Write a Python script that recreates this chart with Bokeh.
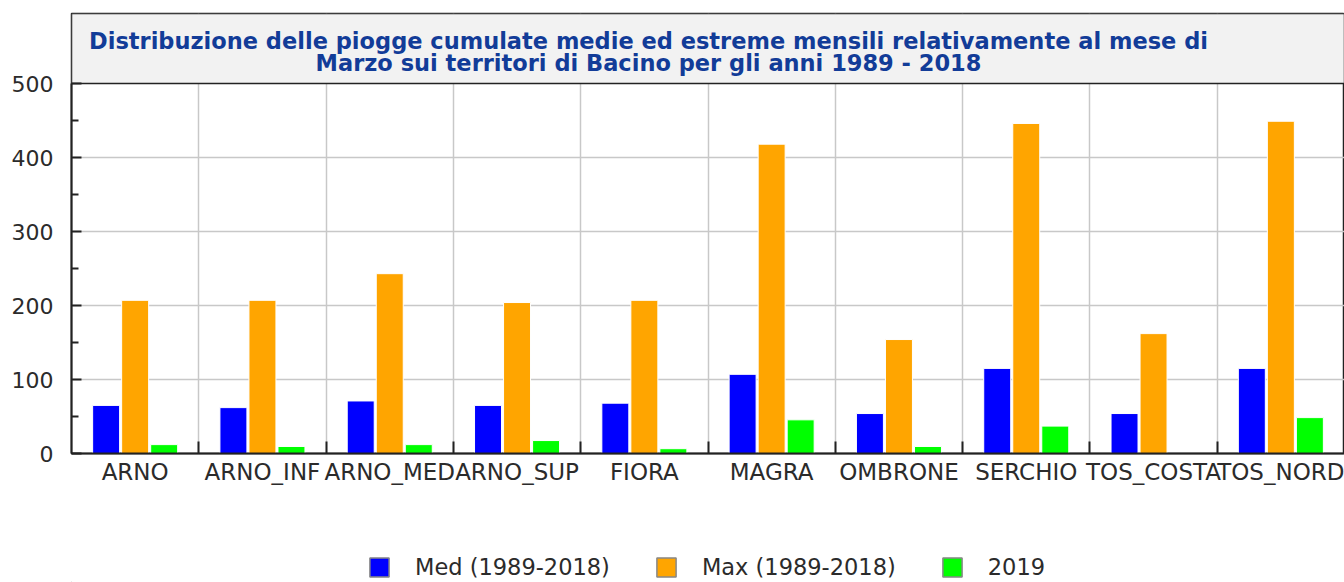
from bokeh.plotting import figure
from bokeh.models import (Range1d, FixedTicker, Legend, LegendItem, ColumnDataSource)
from bokeh.layouts import column
from bokeh.transform import dodge
from bokeh.embed import file_html
from bokeh.resources import INLINE
from bokeh.core.properties import value

# ---------------- data ----------------
categories = ["ARNO", "ARNO_INF", "ARNO_MED", "ARNO_SUP", "FIORA",
              "MAGRA", "OMBRONE", "SERCHIO", "TOS_COSTA", "TOS_NORD"]
med_1989_2018 = [65, 62, 71, 65, 68, 107, 54, 115, 54, 115]
max_1989_2018 = [207, 207, 243, 204, 207, 418, 154, 446, 162, 449]
val_2019 = [12, 9.5, 12, 17.5, 6.5, 45.5, 9.5, 37, 0, 48.5]
series_labels = ["Med (1989-2018)", "Max (1989-2018)", "2019"]
series_colors = ["#0000ff", "#ffa500", "#00ff00"]
y_ticks = [0, 100, 200, 300, 400, 500]
y_minor_ticks = [50, 150, 250, 350, 450]
title_lines = ["Distribuzione delle piogge cumulate medie ed estreme mensili relativamente al mese di",
               "Marzo sui territori di Bacino per gli anni 1989 - 2018"]

FONT = "DejaVu Sans"
TXT = "#2b2b2b"
W = 1344

n = len(categories)
centers = [i + 0.5 for i in range(n)]
bounds = [i for i in range(1, n)]
y_max = y_ticks[-1]

# pixel layout of the chart
FRAME_L, FRAME_T, DATA_T, DATA_B = 71, 13, 83, 453
px_per_unit = (DATA_B - DATA_T) / y_max
y_top = y_max + (DATA_T - FRAME_T) / px_per_unit   # room for the title box

src = ColumnDataSource(dict(x=centers, med=med_1989_2018, mx=max_1989_2018, y19=val_2019))

p = figure(width=W, height=490, output_backend="svg", toolbar_location=None,
           x_range=Range1d(0, n), y_range=Range1d(0, y_top),
           min_border_left=FRAME_L, min_border_right=0, min_border_top=FRAME_T,
           min_border_bottom=490 - DATA_B)
p.background_fill_color = "white"
p.border_fill_color = "white"
p.outline_line_color = "#222222"
p.outline_line_width = 1.5

# title box (inside the frame, above the data area)
p.quad(left=[0], right=[n], bottom=[y_max], top=[y_top],
       fill_color="#f2f2f2", line_color="#222222", line_width=1.5)
tx = n * (648 - FRAME_L) / (W - FRAME_L)
ty1 = y_max + (DATA_T - 40) / px_per_unit
ty2 = y_max + (DATA_T - 62) / px_per_unit
p.text(x=[tx, tx], y=[ty1, ty2], text=title_lines,
       text_font=value(FONT), text_font_style="bold", text_font_size="22.5px",
       text_color="#123c98", text_align="center", text_baseline="middle")

bw = 0.212
off = 0.228
p.vbar(x=dodge("x", -off, range=p.x_range), top="med", width=bw, source=src,
       fill_color=series_colors[0], line_color="white", line_width=1)
p.vbar(x=dodge("x", 0, range=p.x_range), top="mx", width=bw, source=src,
       fill_color=series_colors[1], line_color="white", line_width=1)
p.vbar(x=dodge("x", off, range=p.x_range), top="y19", width=bw, source=src,
       fill_color=series_colors[2], line_color="white", line_width=1)

# grid
p.xgrid.ticker = FixedTicker(ticks=bounds)
p.xgrid.bounds = (0, y_max)
p.ygrid.ticker = FixedTicker(ticks=y_ticks[1:-1])
p.grid.grid_line_color = "#c8c8c8"
p.grid.grid_line_width = 1.5

# x axis
xa = p.xaxis[0]
xa.ticker = FixedTicker(ticks=centers, minor_ticks=bounds)
xa.major_label_overrides = {c: lab for c, lab in zip(centers, categories)}
xa.major_tick_in = 0
xa.major_tick_out = 0
xa.minor_tick_in = 12
xa.minor_tick_out = 0
xa.minor_tick_line_color = "#222222"
xa.minor_tick_line_width = 2
xa.axis_line_color = "#222222"
xa.axis_line_width = 2
xa.major_label_text_font = FONT
xa.major_label_text_font_size = "23px"
xa.major_label_text_color = TXT
xa.major_label_standoff = 5

# y axis
ya = p.yaxis[0]
ya.ticker = FixedTicker(ticks=y_ticks, minor_ticks=y_minor_ticks)
ya.bounds = (0, y_max)
ya.major_tick_in = 10
ya.major_tick_out = 0
ya.minor_tick_in = 7
ya.minor_tick_out = 0
ya.major_tick_line_color = "#222222"
ya.minor_tick_line_color = "#222222"
ya.major_tick_line_width = 2
ya.minor_tick_line_width = 2
ya.axis_line_color = "#222222"
ya.axis_line_width = 2
ya.major_label_text_font = FONT
ya.major_label_text_font_size = "22px"
ya.major_label_text_color = TXT
ya.major_label_standoff = 18

# ---------------- legend strip ----------------
lg = figure(width=W, height=582 - 490, output_backend="svg", toolbar_location=None,
            x_range=Range1d(0, 1), y_range=Range1d(0, 1),
            x_axis_type=None, y_axis_type=None,
            min_border_left=0, min_border_right=0, min_border_top=0, min_border_bottom=0)
lg.grid.visible = False
lg.outline_line_color = None
lg.background_fill_color = "white"
lg.border_fill_color = "white"
proxy = ColumnDataSource(dict(x=[-5], top=[0]))   # off-screen legend proxies
items = []
for lab, col in zip(series_labels, series_colors):
    rr = lg.vbar(x="x", top="top", width=0.2, source=proxy,
                 fill_color=col, line_color="#888888", line_width=1.5)
    items.append(LegendItem(label=lab, renderers=[rr]))
legend = Legend(items=items, orientation="horizontal", location=(296, 2),
                glyph_width=24, glyph_height=24, label_standoff=24, spacing=44,
                padding=0, margin=0, border_line_color=None, background_fill_alpha=0,
                label_text_font=FONT, label_text_font_size="22.5px", label_text_color=TXT,
                label_text_baseline="middle")
lg.add_layout(legend, "center")

layout = column(p, lg, spacing=0)
open("out.html", "w").write(file_html(layout, INLINE))
